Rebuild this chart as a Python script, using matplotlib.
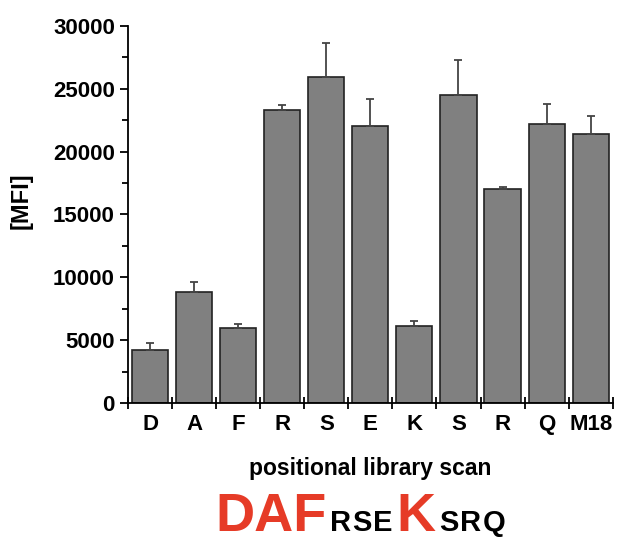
import numpy as np
import matplotlib.pyplot as plt

plt.rcParams['font.family'] = ['Liberation Sans', 'DejaVu Sans']

labels = ['D', 'A', 'F', 'R', 'S', 'E', 'K', 'S', 'R', 'Q', 'M18']
mfi = [4200, 8830, 5990, 23310, 25940, 22010, 6120, 24500, 17020, 22170, 21400]
err_top = [4750, 9650, 6280, 23680, 28660, 24180, 6550, 27310, 17180, 23790, 22830]

# caption pieces: text, font size, colour
caption = [('DAF', 39, '#e63b27'), ('RSE', 21, 'black'), ('K', 39, '#e63b27'), ('SRQ', 21, 'black')]

mfi = np.array(mfi)
err = np.array(err_top) - mfi
x = np.arange(len(labels))

fig = plt.figure(figsize=(6.17, 5.41), dpi=100)
ax = fig.add_axes([0.2075, 0.2551, 0.7855, 0.6969])

ax.bar(x, mfi, width=0.82, color='#808080', edgecolor='#222222', linewidth=1.2, zorder=2)
ax.errorbar(x, mfi, yerr=[np.zeros_like(err), err], fmt='none', ecolor='#444444',
            elinewidth=1.3, capsize=3, capthick=1.3, zorder=3)

ax.set_xlim(-0.5, len(labels) - 0.5)
ax.set_ylim(0, 30000)
ax.spines['top'].set_visible(False)
ax.spines['right'].set_visible(False)
for s in ['left', 'bottom']:
    ax.spines[s].set_linewidth(1.3)

ax.set_yticks(np.arange(0, 30001, 5000))
ax.set_yticks(np.arange(2500, 30000, 5000), minor=True)
ax.tick_params(axis='y', which='major', direction='out', length=6, width=1.3,
               labelsize=16)
ax.tick_params(axis='y', which='minor', direction='out', length=4, width=1.3)
for t in ax.get_yticklabels():
    t.set_fontweight('bold')

ax.set_xticks(x)
ax.set_xticklabels(labels, fontsize=16, fontweight='bold')
ax.set_xticks(np.arange(-0.5, len(labels), 1), minor=True)
ax.tick_params(axis='x', which='major', length=0, pad=8)
ax.tick_params(axis='x', which='minor', direction='inout', length=9, width=1.3)

ax.set_ylabel('[MFI]', fontsize=17, fontweight='bold')
ax.yaxis.set_label_coords(-0.196, 0.536)
ax.set_xlabel('positional library scan', fontsize=16.5, fontweight='bold', labelpad=16)

# sequence caption: pieces laid side by side on one baseline
fig.canvas.draw()
renderer = fig.canvas.get_renderer()
xpos = 215
for txt, size, col in caption:
    # small letters are spread a little, big ones set as one word
    chunks = list(txt) if size < 30 else [txt]
    for ch in chunks:
        t = fig.text(xpos / fig.bbox.width, 10 / fig.bbox.height, ch, fontsize=size,
                     fontweight='bold', color=col, ha='left', va='baseline')
        xpos = t.get_window_extent(renderer).x1 + 1.5
    xpos += 2

fig.savefig('out.png', dpi=100)
